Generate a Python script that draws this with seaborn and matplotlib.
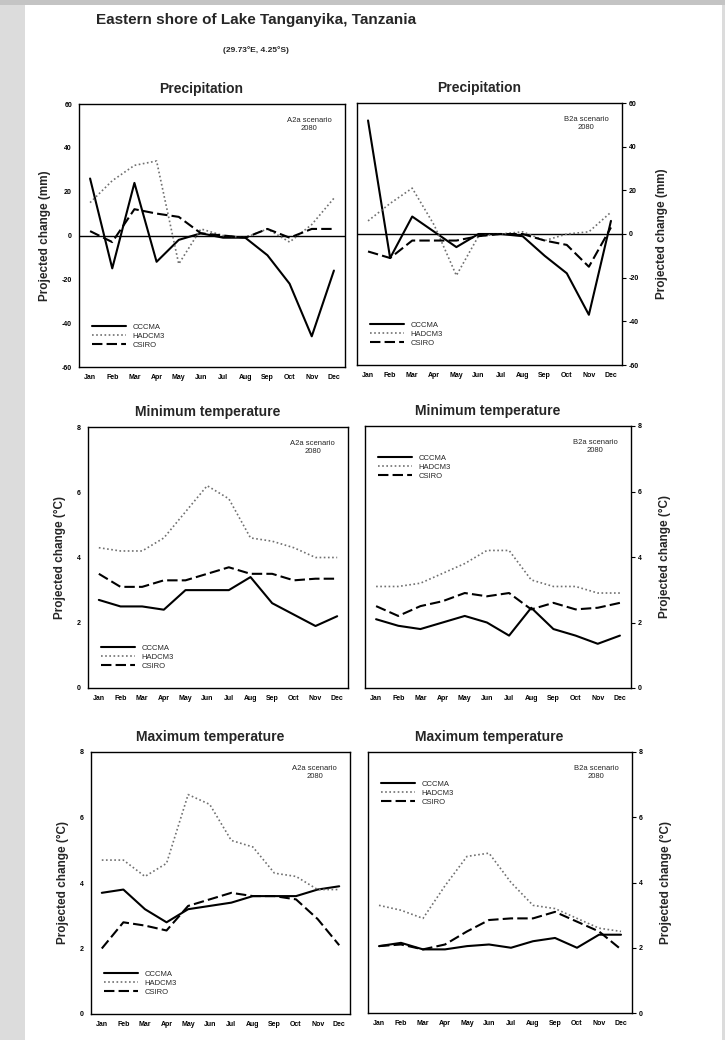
import numpy as np
import pandas as pd
import matplotlib.pyplot as plt
import seaborn as sns

# month labels and model names
months = ["Jan", "Feb", "Mar", "Apr", "May", "Jun", "Jul", "Aug", "Sep", "Oct", "Nov", "Dec"]
models = ["CCCMA", "HADCM3", "CSIRO"]

# Precipitation, A2a scenario 2080 (mm)
prec_a2_cccma = [26, -15, 24, -12, -2, 1, -1, -1, -9, -22, -46, -16]
prec_a2_hadcm3 = [15, 25, 32, 34, -13, 3, 0, -1, 3, -3, 5, 17]
prec_a2_csiro = [2, -3, 12, 10, 8.5, 1, 0, -1, 3, -1, 3, 3]

# Precipitation, B2a scenario 2080 (mm)
prec_b2_cccma = [52, -11, 8, 1, -6, 0, 0, -1, -10, -18, -37, 6]
prec_b2_hadcm3 = [6, 14, 21, 4, -19, -1, 0, 1, -3, 0, 1, 10]
prec_b2_csiro = [-8, -11, -3, -3, -3, -1, 0, 0, -3, -5, -15, 3]

# Minimum temperature, A2a scenario 2080 (deg C)
tmin_a2_cccma = [2.7, 2.5, 2.5, 2.4, 3.0, 3.0, 3.0, 3.4, 2.6, 2.25, 1.9, 2.2]
tmin_a2_hadcm3 = [4.3, 4.2, 4.2, 4.6, 5.4, 6.2, 5.8, 4.6, 4.5, 4.3, 4.0, 4.0]
tmin_a2_csiro = [3.5, 3.1, 3.1, 3.3, 3.3, 3.5, 3.7, 3.5, 3.5, 3.3, 3.35, 3.35]

# Minimum temperature, B2a scenario 2080 (deg C)
tmin_b2_cccma = [2.1, 1.9, 1.8, 2.0, 2.2, 2.0, 1.6, 2.45, 1.8, 1.6, 1.35, 1.6]
tmin_b2_hadcm3 = [3.1, 3.1, 3.2, 3.5, 3.8, 4.2, 4.2, 3.3, 3.1, 3.1, 2.9, 2.9]
tmin_b2_csiro = [2.5, 2.2, 2.5, 2.65, 2.9, 2.8, 2.9, 2.4, 2.6, 2.4, 2.45, 2.6]

# Maximum temperature, A2a scenario 2080 (deg C)
tmax_a2_cccma = [3.7, 3.8, 3.2, 2.8, 3.2, 3.3, 3.4, 3.6, 3.6, 3.6, 3.8, 3.9]
tmax_a2_hadcm3 = [4.7, 4.7, 4.2, 4.6, 6.7, 6.4, 5.3, 5.1, 4.3, 4.2, 3.8, 3.8]
tmax_a2_csiro = [2.0, 2.8, 2.7, 2.55, 3.3, 3.5, 3.7, 3.6, 3.6, 3.5, 2.9, 2.1]

# Maximum temperature, B2a scenario 2080 (deg C)
tmax_b2_cccma = [2.05, 2.15, 1.95, 1.95, 2.05, 2.1, 2.0, 2.2, 2.3, 2.0, 2.4, 2.4]
tmax_b2_hadcm3 = [3.3, 3.15, 2.9, 3.9, 4.8, 4.9, 4.0, 3.3, 3.2, 2.9, 2.6, 2.5]
tmax_b2_csiro = [2.05, 2.1, 1.95, 2.1, 2.5, 2.85, 2.9, 2.9, 3.1, 2.8, 2.5, 1.95]

sns.set_theme(style="white")
plt.rcParams["font.family"] = ["Liberation Sans", "DejaVu Sans"]

fig = plt.figure(figsize=(7.25, 10.4), dpi=100, facecolor="#dcdcdc")
# white page
fig.patches.append(plt.Rectangle((25 / 725, 0), 697 / 725, 1 - 5 / 1040,
                                 transform=fig.transFigure, facecolor="white",
                                 edgecolor="none", zorder=-1))
fig.patches.append(plt.Rectangle((0, 1 - 5 / 1040), 1, 5 / 1040,
                                 transform=fig.transFigure, facecolor="#c4c4c4",
                                 edgecolor="none", zorder=-1))

fig.text(256 / 725, 1 - 20 / 1040, "Eastern shore of Lake Tanganyika, Tanzania",
         ha="center", va="center", fontsize=11, fontweight="bold")
fig.text(256 / 725, 1 - 50 / 1040, "(29.73°E, 4.25°S)",
         ha="center", va="center", fontsize=6, fontweight="bold")

palette = {"CCCMA": "black", "HADCM3": "#707070", "CSIRO": "black"}
dashes = {"CCCMA": "", "HADCM3": (1, 1.5), "CSIRO": (5, 2)}

panels = [
    # (rect in px: left, top, right, bottom), title, scenario, data, ylim, ticks, side, legend loc
    ((79, 104, 345, 367), "Precipitation", "A2a scenario\n2080",
     (prec_a2_cccma, prec_a2_hadcm3, prec_a2_csiro), (-60, 60), np.arange(-60, 61, 20),
     "left", "lower left", "Projected change (mm)", 405),
    ((357, 103, 622, 365), "Precipitation", "B2a scenario\n2080",
     (prec_b2_cccma, prec_b2_hadcm3, prec_b2_csiro), (-60, 60), np.arange(-60, 61, 20),
     "right", "lower left", "Projected change (mm)", 0),
    ((88, 427, 348, 688), "Minimum temperature", "A2a scenario\n2080",
     (tmin_a2_cccma, tmin_a2_hadcm3, tmin_a2_csiro), (0, 8), np.arange(0, 9, 2),
     "left", "lower left", "Projected change (°C)", 0),
    ((365, 426, 631, 688), "Minimum temperature", "B2a scenario\n2080",
     (tmin_b2_cccma, tmin_b2_hadcm3, tmin_b2_csiro), (0, 8), np.arange(0, 9, 2),
     "right", "upper left", "Projected change (°C)", 0),
    ((91, 752, 350, 1014), "Maximum temperature", "A2a scenario\n2080",
     (tmax_a2_cccma, tmax_a2_hadcm3, tmax_a2_csiro), (0, 8), np.arange(0, 9, 2),
     "left", "lower left", "Projected change (°C)", 0),
    ((368, 752, 632, 1013), "Maximum temperature", "B2a scenario\n2080",
     (tmax_b2_cccma, tmax_b2_hadcm3, tmax_b2_csiro), (0, 8), np.arange(0, 9, 2),
     "right", "upper left", "Projected change (°C)", 0),
]

for rect, title, scen, series, ylim, yticks, side, loc, ylab, _ in panels:
    l, t, r, b = rect
    ax = fig.add_axes([l / 725, 1 - b / 1040, (r - l) / 725, (b - t) / 1040])

    df = pd.DataFrame({
        "month": list(range(12)) * 3,
        "value": list(series[0]) + list(series[1]) + list(series[2]),
        "model": np.repeat(models, 12),
    })
    sns.lineplot(data=df, x="month", y="value", hue="model", style="model",
                 palette=palette, dashes=dashes, linewidth=1.5, ax=ax)
    for line in ax.get_lines():
        if line.get_color() == "#707070":
            line.set_linewidth(1.2)

    if ylim[0] < 0:
        ax.axhline(0, color="black", linewidth=1.0, zorder=0)

    ax.set_xlim(-0.5, 11.5)
    ax.set_ylim(*ylim)
    ax.set_xticks(range(12))
    ax.set_xticklabels(months, fontsize=5, fontweight="bold")
    ax.set_yticks(yticks)
    ax.set_yticklabels([str(v) for v in yticks], fontsize=5, fontweight="bold")
    ax.tick_params(direction="out", length=3, width=0.8, pad=2, colors="black")
    ax.set_xlabel("")
    if side == "right":
        ax.yaxis.tick_right()
        ax.yaxis.set_label_position("right")
        ax.set_ylabel(ylab, fontsize=8.5, fontweight="bold", rotation=90, labelpad=12)
    else:
        ax.set_ylabel(ylab, fontsize=8.5, fontweight="bold", labelpad=8)
    for sp in ax.spines.values():
        sp.set_color("black")
        sp.set_linewidth(1.0)

    ax.text(0.95, 0.95, scen, transform=ax.transAxes, ha="right", va="top",
            fontsize=5.5, multialignment="center")
    ax.text(0.46, 1.03, title, transform=ax.transAxes, ha="center", va="bottom",
            fontsize=10, fontweight="bold")

    leg = ax.legend(loc=loc, frameon=False, fontsize=5.5, handlelength=4.5,
                    borderaxespad=0.6, labelspacing=0.2, handletextpad=0.8,
                    bbox_to_anchor=(0.02, 0.04, 0.96, 0.88))
    leg.set_title(None)

fig.savefig("out.png", dpi=100, facecolor=fig.get_facecolor())
